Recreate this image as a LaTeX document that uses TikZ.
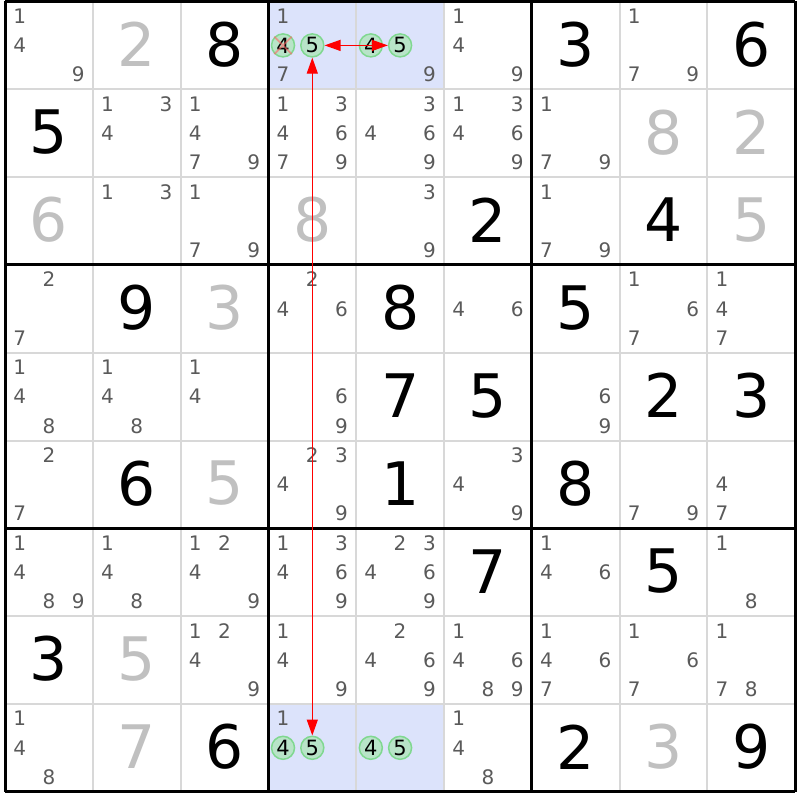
\documentclass[tikz,border=0pt]{standalone}
\usepackage{fontspec}
\setmainfont{DejaVu Sans}
\usetikzlibrary{arrows.meta}

\definecolor{candgray}{HTML}{5A5A5A}
\definecolor{solvgray}{HTML}{C0C0C0}
\definecolor{gridgray}{HTML}{D8D8D8}
\definecolor{hlblue}{HTML}{DCE3FB}
\definecolor{hitfill}{HTML}{B8E4C8}
\definecolor{hitline}{HTML}{80D890}
\newcommand{\cellsz}{87.8}

\begin{document}
\begin{tikzpicture}[x=1pt, y=-1pt,
    thinline/.style={gridgray, line width=2pt},
    boxline/.style={black, line width=3pt},
    given/.style={inner sep=0, font=\fontsize{60}{60}\selectfont},
    solved/.style={given, solvgray},
    cand/.style={inner sep=0, candgray, font=\fontsize{20}{20}\selectfont},
    hit/.style={circle, inner sep=0, minimum size=23pt, fill=hitfill, draw=hitline,
      line width=1.5pt, font=\fontsize{21}{21}\selectfont},
    strike/.style={red!60, opacity=0.6, line width=1.8pt},
    link/.style={red, line width=1.3pt,
      {Triangle[length=16pt,width=11pt]}-{Triangle[length=16pt,width=11pt]}}
  ]
  \useasboundingbox (0,0) rectangle (800,800);

  % highlighted cells
  \fill[hlblue] ({5+3*\cellsz},1.5) rectangle ({5+5*\cellsz},{1.5+\cellsz});
  \fill[hlblue] ({5+3*\cellsz},{1.5+8*\cellsz}) rectangle ({5+5*\cellsz},{1.5+9*\cellsz});

  % grid
  \foreach \i in {1,...,8} {
    \draw[thinline] ({5+\i*\cellsz},1.5) -- ++(0,{9*\cellsz});
    \draw[thinline] (5,{1.5+\i*\cellsz}) -- ++({9*\cellsz},0);
  }
  \foreach \i in {0,3,6,9} {
    \draw[boxline] ({5+\i*\cellsz},1.5) -- ++(0,{9*\cellsz});
    \draw[boxline] (5,{1.5+\i*\cellsz}) -- ++({9*\cellsz},0);
  }

  % givens
  \foreach \r/\c/\v in {1/3/8, 1/7/3, 1/9/6, 2/1/5, 3/6/2, 3/8/4,
      4/2/9, 4/5/8, 4/7/5, 5/5/7, 5/6/5, 5/8/2, 5/9/3,
      6/2/6, 6/5/1, 6/7/8, 7/6/7, 7/8/5, 8/1/3, 9/3/6, 9/7/2, 9/9/9}
    \node[given] (v\r\c) at ({5+(\c-0.5)*\cellsz},{0.5+(\r-0.5)*\cellsz}) {\v};

  % placed
  \foreach \r/\c/\v in {1/2/2, 2/8/8, 2/9/2, 3/1/6, 3/4/8, 3/9/5,
      4/3/3, 6/3/5, 8/2/5, 9/2/7, 9/8/3}
    \node[solved] (v\r\c) at ({5+(\c-0.5)*\cellsz},{0.5+(\r-0.5)*\cellsz}) {\v};

  % candidates
  \foreach \r/\c/\ds in {1/1/{1,4,9}, 1/4/{1,7}, 1/5/{9}, 1/6/{1,4,9}, 1/8/{1,7,9},
      2/2/{1,3,4}, 2/3/{1,4,7,9}, 2/4/{1,3,4,6,7,9}, 2/5/{3,4,6,9}, 2/6/{1,3,4,6,9}, 2/7/{1,7,9},
      3/2/{1,3}, 3/3/{1,7,9}, 3/5/{3,9}, 3/7/{1,7,9},
      4/1/{2,7}, 4/4/{2,4,6}, 4/6/{4,6}, 4/8/{1,6,7}, 4/9/{1,4,7},
      5/1/{1,4,8}, 5/2/{1,4,8}, 5/3/{1,4}, 5/4/{6,9}, 5/7/{6,9},
      6/1/{2,7}, 6/4/{2,3,4,9}, 6/6/{3,4,9}, 6/8/{7,9}, 6/9/{4,7},
      7/1/{1,4,8,9}, 7/2/{1,4,8}, 7/3/{1,2,4,9}, 7/4/{1,3,4,6,9}, 7/5/{2,3,4,6,9}, 7/7/{1,4,6}, 7/9/{1,8},
      8/3/{1,2,4,9}, 8/4/{1,4,9}, 8/5/{2,4,6,9}, 8/6/{1,4,6,8,9}, 8/7/{1,4,6,7}, 8/8/{1,6,7}, 8/9/{1,7,8},
      9/1/{1,4,8}, 9/4/{1}, 9/6/{1,4,8}}
    \foreach \d in \ds {
      \pgfmathsetmacro\px{5+(\c-1)*\cellsz+(mod(\d-1,3)+0.5)*\cellsz/3}
      \pgfmathsetmacro\py{1.5+(\r-1)*\cellsz+(floor((\d-1)/3)+0.5)*\cellsz/3}
      \node[cand] (k\r\c\d) at (\px,\py) {\d};
    }

  % circled candidates
  \foreach \r/\c/\d in {1/4/4, 1/4/5, 1/5/4, 1/5/5, 9/4/4, 9/4/5, 9/5/4, 9/5/5} {
    \pgfmathsetmacro\px{5+(\c-1)*\cellsz+(mod(\d-1,3)+0.5)*\cellsz/3}
    \pgfmathsetmacro\py{1.5+(\r-1)*\cellsz+(floor((\d-1)/3)+0.5)*\cellsz/3}
    \node[hit] (h\r\c\d) at (\px,\py) {\d};
  }
  \draw[strike] (h144.north west) -- (h144.south east)
    (h144.north east) -- (h144.south west);

  % links
  \draw[link] (h145) -- (h945);
  \draw[link] (h145) -- (h155);
\end{tikzpicture}
\end{document}
